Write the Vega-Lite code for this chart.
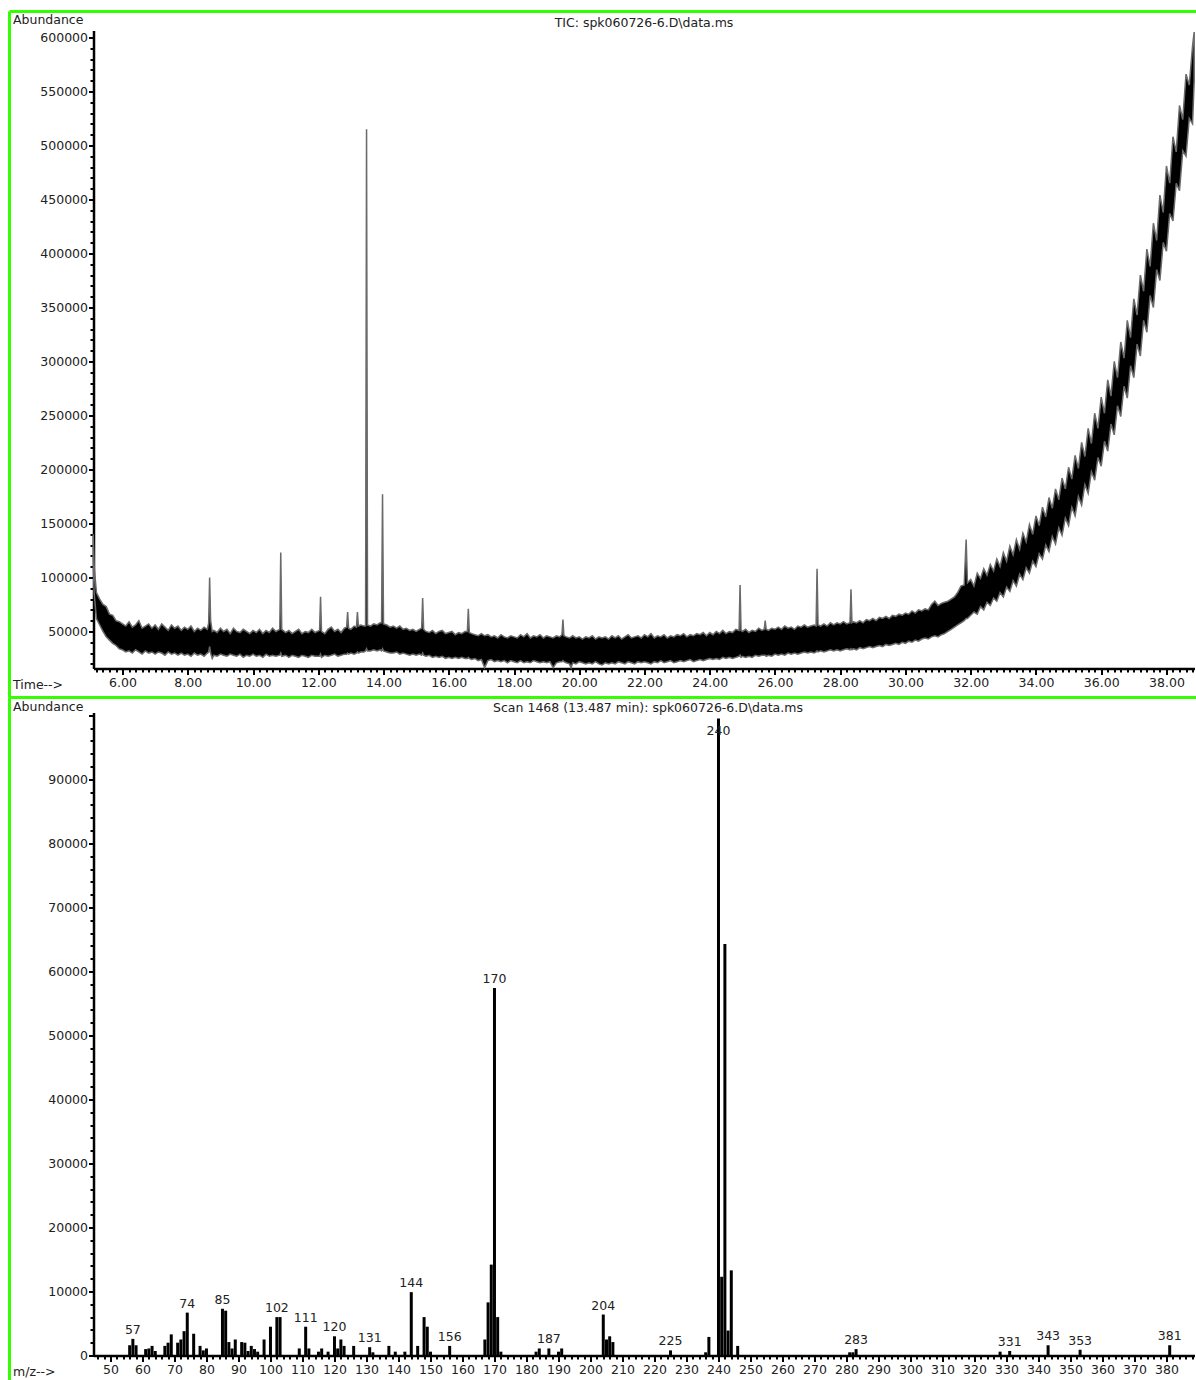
{
  "$schema": "https://vega.github.io/schema/vega-lite/v6.json",
  "padding": {"left": 7.5, "top": 9.5, "right": 0, "bottom": 0},
  "background": "white",
  "spacing": 0,
  "bounds": "flush",
  "config": {
    "view": {"stroke": null},
    "font": "DejaVu Sans",
    "axis": {"labelFont": "DejaVu Sans", "labelFontSize": 12.5, "labelColor": "#222", "titleFont": "DejaVu Sans", "titleFontSize": 12.5, "titleFontWeight": "normal", "titleColor": "#222", "domainColor": "black", "domainWidth": 2.5, "tickColor": "black", "tickWidth": 2, "grid": false, "labelFlush": false, "labelOverlap": false},
    "title": {"font": "DejaVu Sans", "fontSize": 12.5, "fontWeight": "normal", "color": "#222"}
  },
  "vconcat": [
    {
      "width": 1187,
      "height": 686,
      "title": {"text": "TIC: spk060726-6.D\\data.ms", "anchor": "middle", "frame": "group", "offset": -20, "dx": 41},
      "layer": [
        {
          "data": {"values": [
            {"t":5.1,"hi":140000,"lo":118000},{"t":5.13,"hi":110000,"lo":85000},{"t":5.2,"hi":86000,"lo":62000},{"t":5.3,"hi":80000,"lo":56000},{"t":5.4,"hi":75000,"lo":50000},{"t":5.5,"hi":73000,"lo":45000},{"t":5.6,"hi":66000,"lo":42000},{"t":5.7,"hi":65000,"lo":39000},{"t":5.8,"hi":60000,"lo":37000},{"t":5.9,"hi":59000,"lo":34000},
            {"t":6.0,"hi":57000,"lo":33000},{"t":6.1,"hi":55000,"lo":31000},{"t":6.2,"hi":59000,"lo":32000},{"t":6.3,"hi":54000,"lo":30000},{"t":6.4,"hi":56000,"lo":33000},{"t":6.5,"hi":60000,"lo":31000},{"t":6.6,"hi":53000,"lo":29000},{"t":6.7,"hi":55000,"lo":32000},{"t":6.8,"hi":57000,"lo":30000},{"t":6.9,"hi":53000,"lo":31000},
            {"t":7.0,"hi":56000,"lo":29000},{"t":7.1,"hi":52000,"lo":31000},{"t":7.2,"hi":57000,"lo":30000},{"t":7.3,"hi":54000,"lo":28000},{"t":7.4,"hi":51000,"lo":31000},{"t":7.5,"hi":56000,"lo":29000},{"t":7.6,"hi":53000,"lo":30000},{"t":7.7,"hi":55000,"lo":28000},{"t":7.8,"hi":51000,"lo":30000},{"t":7.9,"hi":54000,"lo":28000},
            {"t":8.0,"hi":52000,"lo":29000},{"t":8.1,"hi":55000,"lo":27000},{"t":8.2,"hi":50000,"lo":30000},{"t":8.3,"hi":53000,"lo":28000},{"t":8.4,"hi":51000,"lo":29000},{"t":8.5,"hi":54000,"lo":27000},{"t":8.6,"hi":52000,"lo":30000},{"t":8.64,"hi":58000,"lo":31000},{"t":8.67,"hi":100000,"lo":36000},{"t":8.7,"hi":60000,"lo":30000},{"t":8.75,"hi":50000,"lo":25000},{"t":8.8,"hi":51000,"lo":28000},{"t":8.9,"hi":49000,"lo":27000},
            {"t":9.0,"hi":53000,"lo":29000},{"t":9.1,"hi":50000,"lo":28000},{"t":9.2,"hi":52000,"lo":27000},{"t":9.3,"hi":48000,"lo":29000},{"t":9.4,"hi":53000,"lo":28000},{"t":9.5,"hi":50000,"lo":27000},{"t":9.6,"hi":49000,"lo":29000},{"t":9.7,"hi":52000,"lo":26000},{"t":9.8,"hi":50000,"lo":28000},{"t":9.9,"hi":48000,"lo":27000},
            {"t":10.0,"hi":51000,"lo":29000},{"t":10.1,"hi":49000,"lo":27000},{"t":10.2,"hi":52000,"lo":28000},{"t":10.3,"hi":48000,"lo":26000},{"t":10.4,"hi":51000,"lo":29000},{"t":10.5,"hi":49000,"lo":27000},{"t":10.6,"hi":53000,"lo":28000},{"t":10.7,"hi":50000,"lo":27000},{"t":10.82,"hi":52000,"lo":28000},{"t":10.85,"hi":123000,"lo":30000},{"t":10.88,"hi":52000,"lo":27000},
            {"t":11.0,"hi":49000,"lo":28000},{"t":11.1,"hi":51000,"lo":26000},{"t":11.2,"hi":48000,"lo":28000},{"t":11.3,"hi":50000,"lo":27000},{"t":11.4,"hi":52000,"lo":26000},{"t":11.5,"hi":48000,"lo":28000},{"t":11.6,"hi":50000,"lo":27000},{"t":11.7,"hi":49000,"lo":26000},{"t":11.8,"hi":52000,"lo":28000},{"t":11.9,"hi":49000,"lo":27000},
            {"t":12.04,"hi":51000,"lo":27000},{"t":12.07,"hi":82000,"lo":29000},{"t":12.1,"hi":50000,"lo":26000},{"t":12.2,"hi":48000,"lo":28000},{"t":12.3,"hi":52000,"lo":27000},{"t":12.4,"hi":54000,"lo":28000},{"t":12.5,"hi":50000,"lo":29000},{"t":12.6,"hi":52000,"lo":27000},{"t":12.7,"hi":49000,"lo":28000},{"t":12.8,"hi":53000,"lo":29000},{"t":12.87,"hi":54000,"lo":29000},{"t":12.9,"hi":68000,"lo":30000},{"t":12.93,"hi":53000,"lo":29000},
            {"t":13.0,"hi":52000,"lo":30000},{"t":13.1,"hi":55000,"lo":29000},{"t":13.17,"hi":54000,"lo":30000},{"t":13.2,"hi":68000,"lo":31000},{"t":13.23,"hi":55000,"lo":30000},{"t":13.3,"hi":56000,"lo":31000},{"t":13.4,"hi":55000,"lo":31000},{"t":13.45,"hi":55000,"lo":32000},{"t":13.48,"hi":515000,"lo":34000},{"t":13.51,"hi":56000,"lo":32000},{"t":13.6,"hi":55000,"lo":32000},{"t":13.7,"hi":57000,"lo":33000},{"t":13.8,"hi":56000,"lo":32000},{"t":13.9,"hi":58000,"lo":33000},{"t":13.94,"hi":58000,"lo":32000},{"t":13.97,"hi":177000,"lo":34000},
            {"t":14.0,"hi":57000,"lo":32000},{"t":14.1,"hi":56000,"lo":31000},{"t":14.2,"hi":54000,"lo":30000},{"t":14.3,"hi":55000,"lo":30000},{"t":14.4,"hi":53000,"lo":31000},{"t":14.5,"hi":55000,"lo":29000},{"t":14.6,"hi":52000,"lo":30000},{"t":14.7,"hi":53000,"lo":29000},{"t":14.8,"hi":51000,"lo":28000},{"t":14.9,"hi":52000,"lo":29000},
            {"t":15.0,"hi":50000,"lo":28000},{"t":15.1,"hi":52000,"lo":29000},{"t":15.17,"hi":53000,"lo":28000},{"t":15.2,"hi":81000,"lo":30000},{"t":15.23,"hi":52000,"lo":28000},{"t":15.3,"hi":50000,"lo":27000},{"t":15.4,"hi":49000,"lo":28000},{"t":15.5,"hi":51000,"lo":26000},{"t":15.6,"hi":48000,"lo":27000},{"t":15.7,"hi":50000,"lo":26000},{"t":15.8,"hi":51000,"lo":27000},{"t":15.9,"hi":48000,"lo":25000},
            {"t":16.0,"hi":49000,"lo":26000},{"t":16.1,"hi":50000,"lo":25000},{"t":16.2,"hi":47000,"lo":26000},{"t":16.3,"hi":49000,"lo":25000},{"t":16.4,"hi":48000,"lo":26000},{"t":16.5,"hi":50000,"lo":25000},{"t":16.57,"hi":50000,"lo":25000},{"t":16.6,"hi":71000,"lo":26000},{"t":16.63,"hi":49000,"lo":25000},{"t":16.7,"hi":48000,"lo":24000},{"t":16.8,"hi":47000,"lo":25000},{"t":16.9,"hi":46000,"lo":23000},
            {"t":17.0,"hi":48000,"lo":24000},{"t":17.1,"hi":46000,"lo":16500},{"t":17.2,"hi":47000,"lo":23000},{"t":17.3,"hi":45000,"lo":24000},{"t":17.4,"hi":46000,"lo":22000},{"t":17.5,"hi":44000,"lo":23000},{"t":17.6,"hi":47000,"lo":22000},{"t":17.7,"hi":45000,"lo":23000},{"t":17.8,"hi":44000,"lo":21000},{"t":17.9,"hi":46000,"lo":23000},
            {"t":18.0,"hi":45000,"lo":22000},{"t":18.1,"hi":44000,"lo":21000},{"t":18.2,"hi":47000,"lo":23000},{"t":18.3,"hi":45000,"lo":21000},{"t":18.4,"hi":48000,"lo":22000},{"t":18.5,"hi":44000,"lo":21000},{"t":18.6,"hi":46000,"lo":23000},{"t":18.7,"hi":45000,"lo":22000},{"t":18.8,"hi":47000,"lo":21000},{"t":18.9,"hi":44000,"lo":22000},
            {"t":19.0,"hi":46000,"lo":21000},{"t":19.1,"hi":45000,"lo":22000},{"t":19.2,"hi":44000,"lo":16500},{"t":19.3,"hi":46000,"lo":21000},{"t":19.4,"hi":45000,"lo":22000},{"t":19.47,"hi":47000,"lo":22000},{"t":19.5,"hi":61000,"lo":23000},{"t":19.53,"hi":46000,"lo":22000},{"t":19.6,"hi":45000,"lo":21000},{"t":19.7,"hi":44000,"lo":20000},{"t":19.75,"hi":45000,"lo":16500},{"t":19.8,"hi":46000,"lo":21000},{"t":19.9,"hi":44000,"lo":20000},
            {"t":20.0,"hi":45000,"lo":22000},{"t":20.1,"hi":43000,"lo":21000},{"t":20.2,"hi":45000,"lo":20000},{"t":20.3,"hi":44000,"lo":21000},{"t":20.4,"hi":46000,"lo":20000},{"t":20.5,"hi":43000,"lo":22000},{"t":20.6,"hi":45000,"lo":20000},{"t":20.7,"hi":44000,"lo":19000},{"t":20.8,"hi":45000,"lo":21000},{"t":20.9,"hi":43000,"lo":20000},
            {"t":21.0,"hi":46000,"lo":21000},{"t":21.1,"hi":44000,"lo":20000},{"t":21.2,"hi":46000,"lo":22000},{"t":21.3,"hi":43000,"lo":21000},{"t":21.4,"hi":45000,"lo":20000},{"t":21.5,"hi":47000,"lo":22000},{"t":21.6,"hi":44000,"lo":21000},{"t":21.7,"hi":45000,"lo":20000},{"t":21.8,"hi":46000,"lo":22000},{"t":21.9,"hi":44000,"lo":21000},
            {"t":22.0,"hi":47000,"lo":22000},{"t":22.1,"hi":45000,"lo":21000},{"t":22.2,"hi":48000,"lo":20000},{"t":22.3,"hi":44000,"lo":22000},{"t":22.4,"hi":46000,"lo":21000},{"t":22.5,"hi":45000,"lo":23000},{"t":22.6,"hi":47000,"lo":21000},{"t":22.7,"hi":44000,"lo":22000},{"t":22.8,"hi":46000,"lo":23000},{"t":22.9,"hi":45000,"lo":21000},
            {"t":23.0,"hi":47000,"lo":22000},{"t":23.1,"hi":46000,"lo":23000},{"t":23.2,"hi":48000,"lo":22000},{"t":23.3,"hi":45000,"lo":23000},{"t":23.4,"hi":47000,"lo":24000},{"t":23.5,"hi":46000,"lo":22000},{"t":23.6,"hi":48000,"lo":23000},{"t":23.7,"hi":47000,"lo":24000},{"t":23.8,"hi":49000,"lo":23000},{"t":23.9,"hi":46000,"lo":24000},
            {"t":24.0,"hi":49000,"lo":25000},{"t":24.1,"hi":47000,"lo":24000},{"t":24.2,"hi":50000,"lo":25000},{"t":24.3,"hi":48000,"lo":24000},{"t":24.4,"hi":51000,"lo":26000},{"t":24.5,"hi":48000,"lo":25000},{"t":24.6,"hi":50000,"lo":26000},{"t":24.7,"hi":49000,"lo":25000},{"t":24.8,"hi":52000,"lo":26000},{"t":24.9,"hi":51000,"lo":27000},{"t":24.93,"hi":93000,"lo":28000},{"t":24.96,"hi":51000,"lo":26000},
            {"t":25.0,"hi":50000,"lo":27000},{"t":25.1,"hi":52000,"lo":26000},{"t":25.2,"hi":49000,"lo":27000},{"t":25.3,"hi":51000,"lo":26000},{"t":25.4,"hi":50000,"lo":28000},{"t":25.5,"hi":53000,"lo":27000},{"t":25.6,"hi":51000,"lo":28000},{"t":25.67,"hi":52000,"lo":28000},{"t":25.7,"hi":60000,"lo":28000},{"t":25.73,"hi":52000,"lo":27000},{"t":25.8,"hi":51000,"lo":28000},{"t":25.9,"hi":53000,"lo":27000},
            {"t":26.0,"hi":52000,"lo":29000},{"t":26.1,"hi":54000,"lo":28000},{"t":26.2,"hi":52000,"lo":29000},{"t":26.3,"hi":55000,"lo":28000},{"t":26.4,"hi":53000,"lo":30000},{"t":26.5,"hi":54000,"lo":29000},{"t":26.6,"hi":52000,"lo":30000},{"t":26.7,"hi":55000,"lo":29000},{"t":26.8,"hi":54000,"lo":30000},{"t":26.9,"hi":56000,"lo":31000},
            {"t":27.0,"hi":54000,"lo":30000},{"t":27.1,"hi":55000,"lo":31000},{"t":27.2,"hi":56000,"lo":30000},{"t":27.26,"hi":55000,"lo":31000},{"t":27.29,"hi":108000,"lo":32000},{"t":27.32,"hi":56000,"lo":31000},{"t":27.4,"hi":55000,"lo":32000},{"t":27.5,"hi":57000,"lo":31000},{"t":27.6,"hi":55000,"lo":32000},{"t":27.7,"hi":58000,"lo":33000},{"t":27.8,"hi":56000,"lo":32000},{"t":27.9,"hi":58000,"lo":33000},
            {"t":28.0,"hi":57000,"lo":32000},{"t":28.1,"hi":59000,"lo":33000},{"t":28.2,"hi":57000,"lo":34000},{"t":28.3,"hi":58000,"lo":33000},{"t":28.33,"hi":89000,"lo":34000},{"t":28.36,"hi":58000,"lo":33000},{"t":28.4,"hi":59000,"lo":34000},{"t":28.5,"hi":58000,"lo":33000},{"t":28.6,"hi":60000,"lo":35000},{"t":28.7,"hi":58000,"lo":34000},{"t":28.8,"hi":61000,"lo":35000},{"t":28.9,"hi":60000,"lo":36000},
            {"t":29.0,"hi":62000,"lo":35000},{"t":29.1,"hi":60000,"lo":36000},{"t":29.2,"hi":63000,"lo":37000},{"t":29.3,"hi":62000,"lo":36000},{"t":29.4,"hi":64000,"lo":38000},{"t":29.5,"hi":62000,"lo":37000},{"t":29.6,"hi":65000,"lo":38000},{"t":29.7,"hi":64000,"lo":39000},{"t":29.8,"hi":66000,"lo":38000},{"t":29.9,"hi":65000,"lo":40000},
            {"t":30.0,"hi":67000,"lo":39000},{"t":30.1,"hi":66000,"lo":41000},{"t":30.2,"hi":69000,"lo":40000},{"t":30.3,"hi":67000,"lo":42000},{"t":30.4,"hi":70000,"lo":41000},{"t":30.5,"hi":69000,"lo":43000},{"t":30.6,"hi":71000,"lo":44000},{"t":30.7,"hi":70000,"lo":43000},{"t":30.8,"hi":75000,"lo":45000},{"t":30.9,"hi":78000,"lo":46000},
            {"t":31.0,"hi":74000,"lo":45000},{"t":31.1,"hi":76000,"lo":47000},{"t":31.2,"hi":77000,"lo":48000},{"t":31.3,"hi":78000,"lo":50000},{"t":31.4,"hi":80000,"lo":52000},{"t":31.5,"hi":82000,"lo":54000},{"t":31.6,"hi":86000,"lo":56000},{"t":31.7,"hi":92000,"lo":58000},{"t":31.8,"hi":93000,"lo":60000},{"t":31.86,"hi":135000,"lo":62000},{"t":31.9,"hi":95000,"lo":62000},
            {"t":32.0,"hi":98000,"lo":65000},{"t":32.1,"hi":92000,"lo":68000},{"t":32.2,"hi":104000,"lo":66000},{"t":32.3,"hi":99000,"lo":73000},{"t":32.4,"hi":108000,"lo":70000},{"t":32.5,"hi":102000,"lo":77000},{"t":32.6,"hi":112000,"lo":74000},{"t":32.7,"hi":106000,"lo":81000},{"t":32.8,"hi":117000,"lo":78000},{"t":32.9,"hi":110000,"lo":86000},
            {"t":33.0,"hi":123000,"lo":82000},{"t":33.1,"hi":115000,"lo":91000},{"t":33.2,"hi":129000,"lo":87000},{"t":33.3,"hi":121000,"lo":97000},{"t":33.4,"hi":135000,"lo":92000},{"t":33.5,"hi":126000,"lo":103000},{"t":33.6,"hi":141000,"lo":98000},{"t":33.7,"hi":133000,"lo":109000},{"t":33.8,"hi":149000,"lo":104000},{"t":33.9,"hi":140000,"lo":115000},
            {"t":34.0,"hi":157000,"lo":110000},{"t":34.1,"hi":148000,"lo":122000},{"t":34.2,"hi":165000,"lo":117000},{"t":34.3,"hi":156000,"lo":130000},{"t":34.4,"hi":174000,"lo":124000},{"t":34.5,"hi":164000,"lo":138000},{"t":34.6,"hi":182000,"lo":131000},{"t":34.7,"hi":172000,"lo":146000},{"t":34.8,"hi":192000,"lo":139000},{"t":34.9,"hi":182000,"lo":155000},
            {"t":35.0,"hi":202000,"lo":148000},{"t":35.1,"hi":191000,"lo":165000},{"t":35.2,"hi":213000,"lo":157000},{"t":35.3,"hi":201000,"lo":175000},{"t":35.4,"hi":225000,"lo":167000},{"t":35.5,"hi":212000,"lo":186000},{"t":35.6,"hi":238000,"lo":178000},{"t":35.7,"hi":224000,"lo":198000},{"t":35.8,"hi":252000,"lo":190000},{"t":35.9,"hi":238000,"lo":211000},
            {"t":36.0,"hi":267000,"lo":203000},{"t":36.1,"hi":252000,"lo":226000},{"t":36.2,"hi":283000,"lo":217000},{"t":36.3,"hi":268000,"lo":242000},{"t":36.4,"hi":300000,"lo":232000},{"t":36.5,"hi":285000,"lo":259000},{"t":36.6,"hi":318000,"lo":249000},{"t":36.7,"hi":303000,"lo":277000},{"t":36.8,"hi":338000,"lo":266000},{"t":36.9,"hi":322000,"lo":296000},
            {"t":37.0,"hi":358000,"lo":285000},{"t":37.1,"hi":343000,"lo":316000},{"t":37.2,"hi":380000,"lo":305000},{"t":37.3,"hi":365000,"lo":338000},{"t":37.4,"hi":404000,"lo":327000},{"t":37.5,"hi":388000,"lo":361000},{"t":37.6,"hi":428000,"lo":350000},{"t":37.7,"hi":412000,"lo":385000},{"t":37.8,"hi":454000,"lo":375000},{"t":37.9,"hi":438000,"lo":410000},
            {"t":38.0,"hi":481000,"lo":402000},{"t":38.1,"hi":465000,"lo":437000},{"t":38.2,"hi":508000,"lo":430000},{"t":38.3,"hi":494000,"lo":465000},{"t":38.4,"hi":537000,"lo":458000},{"t":38.5,"hi":524000,"lo":495000},{"t":38.6,"hi":566000,"lo":490000},{"t":38.7,"hi":556000,"lo":525000},{"t":38.8,"hi":592000,"lo":520000},{"t":38.85,"hi":605000,"lo":560000}
          ]},
          "mark": {"type": "area", "fill": "black", "stroke": "#6a6a6a", "strokeWidth": 1.5},
          "encoding": {
            "x": {"field": "t", "type": "quantitative",
              "scale": {"domain": [5.11, 38.86], "range": [84, 1185], "nice": false, "zero": false},
              "axis": {"title": "Time-->", "titleAngle": 0, "titleAlign": "left", "titleBaseline": "middle", "titleX": 3, "titleY": 16, "offset": -29,
                "tickCount": 135,
                "labelExpr": "abs(datum.value - 2 * round(datum.value / 2)) < 0.001 ? format(datum.value, '.2f') : ''",
                "tickSize": {"condition": {"test": "abs(datum.value - 2 * round(datum.value / 2)) < 0.001", "value": 6}, "value": 3.5},
                "labelPadding": 2}},
            "y": {"field": "hi", "type": "quantitative",
              "scale": {"domain": [15700, 606400], "range": [657, 19], "nice": false, "zero": false},
              "axis": {"title": "Abundance", "titleAngle": 0, "titleAlign": "left", "titleBaseline": "middle", "titleX": -81, "titleY": 8, "offset": -84,
                "tickCount": 59, "format": "d",
                "labelExpr": "datum.value % 50000 === 0 ? datum.label : ''",
                "tickSize": {"condition": {"test": "datum.value % 50000 === 0", "value": 5}, "value": 3.5},
                "labelPadding": 1}},
            "y2": {"field": "lo"}
          }
        },
        {"data": {"values": [{}]}, "mark": {"type": "rule", "color": "#33ff00", "strokeWidth": 3}, "encoding": {"x": {"datum": 2.535, "type": "quantitative"}}},
        {"data": {"values": [{}]}, "mark": {"type": "rule", "color": "#33ff00", "strokeWidth": 3}, "encoding": {"y": {"datum": 624000, "type": "quantitative"}}},
        {"data": {"values": [{}]}, "mark": {"type": "rule", "color": "#33ff00", "strokeWidth": 3}, "encoding": {"y": {"datum": -11150, "type": "quantitative"}}}
      ]
    },
    {
      "width": 1187,
      "height": 683,
      "title": {"text": "Scan 1468 (13.487 min): spk060726-6.D\\data.ms", "anchor": "middle", "frame": "group", "offset": -18, "dx": 45},
      "data": {"values": [
        {"mz":56,"ab":1600},{"mz":57,"ab":2600,"lab":"57"},{"mz":58,"ab":1600},
        {"mz":61,"ab":1000},{"mz":62,"ab":1100},{"mz":63,"ab":1500},{"mz":64,"ab":700},
        {"mz":67,"ab":1500},{"mz":68,"ab":2000},{"mz":69,"ab":3300},
        {"mz":71,"ab":2000},{"mz":72,"ab":2500},{"mz":73,"ab":3800},{"mz":74,"ab":6700,"lab":"74"},{"mz":76,"ab":3400},
        {"mz":78,"ab":1500},{"mz":79,"ab":800},{"mz":80,"ab":1100},
        {"mz":85,"ab":7300,"lab":"85"},{"mz":86,"ab":7000},{"mz":87,"ab":2100},{"mz":88,"ab":1100},{"mz":89,"ab":2500},
        {"mz":91,"ab":2100},{"mz":92,"ab":2000},{"mz":93,"ab":700},{"mz":94,"ab":1500},{"mz":95,"ab":1000},{"mz":96,"ab":600},
        {"mz":98,"ab":2500},{"mz":100,"ab":4500},{"mz":102,"ab":6000,"lab":"102"},{"mz":103,"ab":6000},
        {"mz":109,"ab":1100},{"mz":111,"ab":4500,"lab":"111"},{"mz":112,"ab":1100},{"mz":115,"ab":600},{"mz":116,"ab":1100},{"mz":118,"ab":600},
        {"mz":120,"ab":3000,"lab":"120"},{"mz":121,"ab":1100},{"mz":122,"ab":2500},{"mz":123,"ab":1500},{"mz":126,"ab":1500},
        {"mz":131,"ab":1300,"lab":"131"},{"mz":132,"ab":500},{"mz":137,"ab":1500},{"mz":139,"ab":600},{"mz":142,"ab":600},
        {"mz":144,"ab":9900,"lab":"144"},{"mz":146,"ab":1500},{"mz":148,"ab":6000},{"mz":149,"ab":4500},{"mz":150,"ab":600},
        {"mz":156,"ab":1500,"lab":"156"},
        {"mz":167,"ab":2500},{"mz":168,"ab":8300},{"mz":169,"ab":14200},{"mz":170,"ab":57400,"lab":"170"},{"mz":171,"ab":6000},{"mz":172,"ab":600},
        {"mz":183,"ab":600},{"mz":184,"ab":1100},{"mz":187,"ab":1100,"lab":"187"},{"mz":190,"ab":600},{"mz":191,"ab":1100},
        {"mz":204,"ab":6400,"lab":"204"},{"mz":205,"ab":2500},{"mz":206,"ab":3000},{"mz":207,"ab":2100},
        {"mz":225,"ab":800,"lab":"225"},
        {"mz":236,"ab":500},{"mz":237,"ab":2900},{"mz":240,"ab":99500,"lab":"240"},{"mz":241,"ab":12300},{"mz":242,"ab":64300},{"mz":243,"ab":3900},{"mz":244,"ab":13300},{"mz":246,"ab":1500},
        {"mz":281,"ab":500},{"mz":282,"ab":500},{"mz":283,"ab":1000,"lab":"283"},
        {"mz":328,"ab":600},{"mz":331,"ab":700,"lab":"331"},{"mz":343,"ab":1600,"lab":"343"},{"mz":353,"ab":900,"lab":"353"},{"mz":381,"ab":1600,"lab":"381"}
      ]},
      "layer": [
        {
          "mark": {"type": "rule", "color": "black", "strokeWidth": 3},
          "encoding": {
            "x": {"field": "mz", "type": "quantitative",
              "scale": {"domain": [44.7, 388.75], "range": [84, 1185], "nice": false, "zero": false},
              "axis": {"title": "m/z-->", "titleAngle": 0, "titleAlign": "left", "titleBaseline": "middle", "titleX": 3, "titleY": 16, "offset": -25,
                "tickCount": 172, "format": "d",
                "labelExpr": "datum.value % 10 === 0 ? datum.label : ''",
                "tickSize": {"condition": {"test": "datum.value % 10 === 0", "value": 6}, "value": 3.5},
                "labelPadding": 2}},
            "y": {"field": "ab", "type": "quantitative",
              "scale": {"domain": [0, 100450], "range": [658, 15], "nice": false, "zero": false},
              "axis": {"title": "Abundance", "titleAngle": 0, "titleAlign": "left", "titleBaseline": "middle", "titleX": -81, "titleY": 9, "offset": -84,
                "tickCount": 50, "format": "d",
                "labelExpr": "datum.value % 10000 === 0 && datum.value < 100000 ? datum.label : ''",
                "tickSize": {"condition": {"test": "datum.value % 10000 === 0", "value": 5}, "value": 3.5},
                "labelPadding": 1}},
            "y2": {"datum": 0}
          }
        },
        {
          "transform": [{"filter": "isValid(datum.lab) && datum.ab < 90000"}],
          "mark": {"type": "text", "baseline": "alphabetic", "dy": -5, "font": "DejaVu Sans", "fontSize": 12.5, "fill": "#222"},
          "encoding": {
            "x": {"field": "mz", "type": "quantitative"},
            "y": {"field": "ab", "type": "quantitative"},
            "text": {"field": "lab"}
          }
        },
        {
          "transform": [{"filter": "isValid(datum.lab) && datum.ab >= 90000"}],
          "mark": {"type": "text", "baseline": "alphabetic", "dy": 16, "font": "DejaVu Sans", "fontSize": 12.5, "fill": "#222"},
          "encoding": {
            "x": {"field": "mz", "type": "quantitative"},
            "y": {"field": "ab", "type": "quantitative"},
            "text": {"field": "lab"}
          }
        },
        {"data": {"values": [{}]}, "mark": {"type": "rule", "color": "#33ff00", "strokeWidth": 3}, "encoding": {"x": {"datum": 18.45, "type": "quantitative"}}}
      ]
    }
  ]
}
